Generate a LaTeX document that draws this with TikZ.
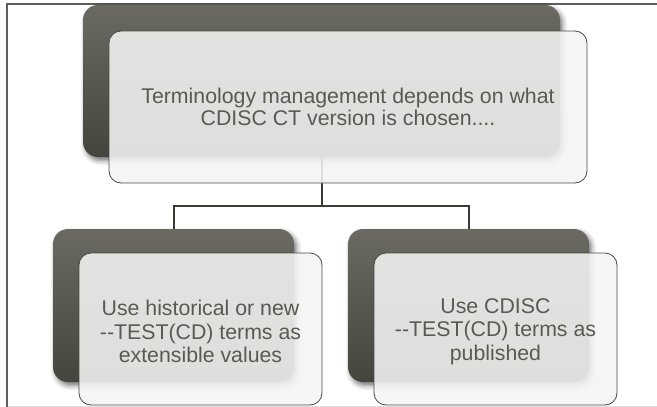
\documentclass[tikz,border=0pt]{standalone}
\usepackage{fontspec}
\setmainfont{Liberation Sans}
\usetikzlibrary{shadows.blur}
\definecolor{darktop}{HTML}{6A6A62}
\definecolor{darkbot}{HTML}{45453E}
\definecolor{lightfill}{HTML}{F4F4F4}
\definecolor{edgec}{HTML}{4A4A44}
\definecolor{txt}{HTML}{5A5A52}
\definecolor{linec}{HTML}{393B33}
\definecolor{framec}{HTML}{5E5E58}
\begin{document}
\begin{tikzpicture}[x=1pt,y=-1pt,
  darkbox/.style={rectangle, rounded corners=15pt, inner sep=0pt, top color=darktop, bottom color=darkbot, draw=none,
    blur shadow={shadow xshift=2.5pt, shadow yshift=-3.5pt, shadow blur radius=5pt, shadow opacity=55}},
  lightbox/.style={rectangle, rounded corners=12pt, inner sep=0pt, fill=lightfill, fill opacity=0.88,
    draw=edgec, line width=0.8pt},
  txtlabel/.style={text=txt, align=center, inner sep=0pt},
  toptext/.style={font=\fontsize{21.3}{21.8}\selectfont},
  bottext/.style={font=\fontsize{21.3}{23.5}\selectfont},
  conn/.style={draw=linec, line width=2pt, line join=miter},
  frameline/.style={draw=framec, line width=1.5pt}]
\useasboundingbox (0,0) rectangle (657,407);
% frame
\coordinate (fbl) at (7,407);
\coordinate (ftl) at (7,4);
\coordinate (ftr) at (657,4);
\coordinate (bl) at (7,406);
\coordinate (br) at (657,406);
\draw[gray!25, line width=0.8pt] (bl) -- (br);
\draw[frameline] (fbl) -- (ftl) -- (ftr);
% dark boxes
\node[darkbox, minimum width=477pt, minimum height=152pt] (topdark) at (321.5,81) {};
\node[darkbox, minimum width=241pt, minimum height=153pt] (leftdark) at (173.5,305.5) {};
\node[darkbox, minimum width=241pt, minimum height=153pt] (rightdark) at (468.5,305.5) {};
% connectors
\coordinate (bus) at (0,205.5);
\draw[conn] (topdark.south) -- (topdark.south |- bus) -| (leftdark.north);
\draw[conn] (topdark.south |- bus) -| (rightdark.north);
% light boxes
\node[lightbox, minimum width=478pt, minimum height=152pt] (toplight) at (348,107) {};
\node[lightbox, minimum width=243pt, minimum height=152pt] (leftlight) at (200.5,329) {};
\node[lightbox, minimum width=243pt, minimum height=152pt] (rightlight) at (495.5,329) {};
% texts
\node[txtlabel, toptext] (toptxt) at (toplight.center)
  {Terminology management depends on what\\CDISC CT version is chosen....};
\node[txtlabel, bottext] (lefttxt) at ([yshift=-2.5pt]leftlight.center)
  {Use historical or new\\-{}-TEST(CD) terms as\\extensible values};
\node[txtlabel, bottext] (righttxt) at ([yshift=-2.5pt]rightlight.center)
  {Use CDISC\\-{}-TEST(CD) terms as\\published};
\end{tikzpicture}
\end{document}
